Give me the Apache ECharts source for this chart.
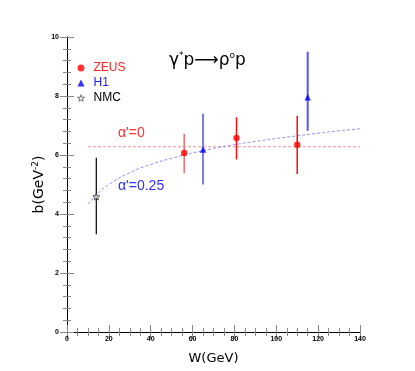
<!DOCTYPE html>
<html><head><meta charset="utf-8">
<script src="https://cdn.jsdelivr.net/npm/echarts@6/dist/echarts.min.js"></script>
<style>html,body{margin:0;padding:0;background:#fff}#c{width:415px;height:371px}</style>
</head><body><div id="c"></div>
<script>
// ZEUS: [W, b, low, high]
const zeusW = [56, 81, 110];
const zeusB = [6.07, 6.58, 6.35];
const zeusLo = [5.38, 5.85, 5.36];
const zeusHi = [6.72, 7.28, 7.33];
// H1
const h1W = [65, 115];
const h1B = [6.19, 7.96];
const h1Lo = [5.0, 6.82];
const h1Hi = [7.40, 9.50];
// NMC
const nmcW = [14];
const nmcB = [4.59];
const nmcLo = [3.31];
const nmcHi = [5.91];
// alpha'=0 line
const flatW = [10, 140];
const flatB = [6.28, 6.28];
// alpha'=0.25 curve
const curveW = [10, 15, 20, 30, 40, 50, 60, 70, 80, 90, 100, 110, 120, 130, 140];
const curveB = [4.33, 4.72, 5.0, 5.40, 5.68, 5.89, 6.07, 6.22, 6.35, 6.46, 6.56, 6.65, 6.74, 6.82, 6.89];
const xTicks = [0, 20, 40, 60, 80, 100, 120, 140];
const yTicks = [0, 2, 4, 6, 8, 10];

const zip = (a, b) => a.map((v, i) => [v, b[i]]);
const zip3 = (a, b, c) => a.map((v, i) => [v, b[i], c[i]]);

function errSeries(data, colors, widths) {
  return {
    type: 'custom', z: 2, silent: true,
    data: data,
    renderItem: function (params, api) {
      const i = params.dataIndex;
      const p1 = api.coord([api.value(0), api.value(1)]);
      const p2 = api.coord([api.value(0), api.value(2)]);
      return { type: 'line', shape: { x1: p1[0], y1: p1[1], x2: p2[0], y2: p2[1] },
        style: { stroke: colors[i], lineWidth: widths[i] } };
    }
  };
}
const star = 'path://M50,0 L61,35 L98,35 L68,57 L79,91 L50,70 L21,91 L32,57 L2,35 L39,35 Z';
const tickLbl = { fontSize: 7, fontWeight: 'bold', color: '#000', fontFamily: 'Liberation Sans' };
const axLine = { show: true, lineStyle: { color: '#000', width: 1 } };
const gray = { color: '#888', width: 1 };

const chart = echarts.init(document.getElementById('c'), null, { renderer: 'canvas' });
chart.setOption({
  animation: false,
  backgroundColor: '#fff',
  grid: { left: 67, right: 55, top: 37, bottom: 39 },
  xAxis: [
    { type: 'value', min: 0, max: 140, interval: 20, position: 'bottom',
      axisLine: axLine, splitLine: { show: false },
      axisTick: { inside: true, length: 7, lineStyle: gray },
      minorTick: { show: true, splitNumber: 4, length: 4, lineStyle: gray },
      axisLabel: Object.assign({ margin: 4, formatter: v => xTicks.includes(v) ? String(v) : '' }, tickLbl),
      name: 'W(GeV)', nameLocation: 'middle', nameGap: 20,
      nameTextStyle: { fontSize: 13, fontFamily: 'DejaVu Sans', color: '#000' } },
    { type: 'value', min: 0, max: 140, interval: 20, position: 'top',
      axisLine: axLine, splitLine: { show: false }, axisLabel: { show: false },
      axisTick: { inside: true, length: 7, lineStyle: gray },
      minorTick: { show: true, splitNumber: 4, length: 4, lineStyle: gray } }
  ],
  yAxis: [
    { type: 'value', min: 0, max: 10, interval: 2, position: 'left',
      axisLine: axLine, splitLine: { show: false },
      axisTick: { inside: true, length: 7, lineStyle: gray },
      minorTick: { show: true, splitNumber: 5, length: 4, lineStyle: gray },
      axisLabel: Object.assign({ margin: 8, formatter: v => yTicks.includes(v) ? String(v) : '' }, tickLbl),
      name: 'b(GeV{s|-2})', nameLocation: 'middle', nameGap: 19, nameRotate: 90, nameMoveOverlap: false,
      nameTextStyle: { fontSize: 14, fontFamily: 'DejaVu Sans', color: '#000',
        rich: { s: { fontSize: 9, verticalAlign: 'top', padding: [0, 0, 8, 0], fontFamily: 'DejaVu Sans' } } } },
    { type: 'value', min: 0, max: 10, interval: 2, position: 'right',
      axisLine: axLine, splitLine: { show: false }, axisLabel: { show: false },
      axisTick: { inside: true, length: 7, lineStyle: gray },
      minorTick: { show: true, splitNumber: 5, length: 4, lineStyle: gray } }
  ],
  legend: {
    orient: 'vertical', left: 72, top: 57, itemGap: 3, itemWidth: 7, itemHeight: 7,
    textStyle: { fontSize: 12, fontFamily: 'Liberation Sans', padding: [0, 0, 0, 4] },
    data: [
      { name: 'ZEUS', icon: 'circle', textStyle: { color: '#ff2020' } },
      { name: 'H1', icon: 'triangle', textStyle: { color: '#2020ff' } },
      { name: 'NMC', icon: star, itemStyle: { color: '#fff', borderColor: '#555', borderWidth: 1 }, textStyle: { color: '#000' } }
    ]
  },
  graphic: [
    { type: 'text', left: 169, top: 51, style: {
      text: '{g|γ}{s|*}{g|p⟶ρ}{s|o}{g|p}', fill: '#000',
      rich: { g: { fontSize: 17, fontFamily: 'DejaVu Sans', fill: '#000' },
              s: { fontSize: 9, fontFamily: 'DejaVu Sans', verticalAlign: 'top', padding: [0, 0, 10, 0], fill: '#000' } } } },
    { type: 'text', left: 118, top: 126, style: { text: "α'=0", fill: '#ff3030', fontSize: 14, fontFamily: 'Liberation Sans' } },
    { type: 'text', left: 118, top: 179, style: { text: "α'=0.25", fill: '#3030ff', fontSize: 14, fontFamily: 'Liberation Sans' } }
  ],
  series: [
    { type: 'line', data: zip(flatW, flatB), symbol: 'none', silent: true, z: 1,
      lineStyle: { color: '#f09090', width: 1, type: [3, 2] } },
    { type: 'line', data: zip(curveW, curveB), symbol: 'none', smooth: true, silent: true, z: 1,
      lineStyle: { color: '#9090f0', width: 1, type: [3, 2] } },
    errSeries(zip3(zeusW, zeusLo, zeusHi), ['#f06a6a', '#ee1010', '#ee1010'], [1.5, 1.5, 1.5]),
    errSeries(zip3(h1W, h1Lo, h1Hi), ['#7a7af5', '#5555ff'], [2, 2]),
    errSeries(zip3(nmcW, nmcLo, nmcHi), ['#000'], [1.2]),
    { name: 'ZEUS', type: 'scatter', data: zip(zeusW, zeusB), symbol: 'circle', symbolSize: 6.5, z: 3,
      itemStyle: { color: '#ff0000' } },
    { name: 'H1', type: 'scatter', data: zip(h1W, h1B), symbol: 'triangle', symbolSize: 6.5, z: 3,
      itemStyle: { color: '#0000ff' } },
    { name: 'NMC', type: 'scatter', data: zip(nmcW, nmcB), symbol: star, symbolSize: 7, z: 3,
      itemStyle: { color: '#fff', borderColor: '#333', borderWidth: 1 } }
  ]
});
</script></body></html>
